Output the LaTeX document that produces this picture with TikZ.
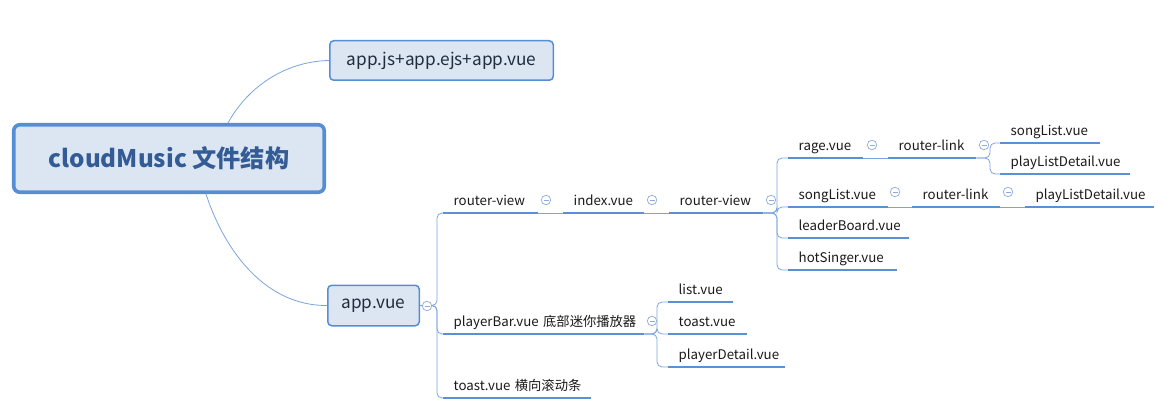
\documentclass[tikz,border=0pt]{standalone}
\usepackage{fontspec}
\setmainfont{Noto Sans CJK SC}
\definecolor{boxc}{HTML}{558ED5}
\definecolor{boxfill}{HTML}{DCE6F2}
\definecolor{rootText}{HTML}{335C96}
\definecolor{lineC}{HTML}{5B8FD6}
\definecolor{connC}{HTML}{7BA3DC}
\definecolor{minusC}{HTML}{8EAADB}
\definecolor{txtC}{HTML}{1A1A1A}
\definecolor{boxText}{HTML}{1F2D3D}
\tikzset{
  item/.style={anchor=south west, inner xsep=0pt, inner ysep=0pt, text height=10pt, text depth=7.5pt,
    align=left, text=txtC, font=\fontsize{13.3}{15}\selectfont, execute at begin node={\hspace*{10.5pt}}},
  uline/.style={draw=lineC, line width=2.9pt},
  conn/.style={draw=connC, line width=0.8pt},
  branch/.style={conn, rounded corners=5pt},
  minus/.style={circle, draw=minusC, fill=white, line width=0.7pt, minimum size=9.5pt, inner sep=0pt,
    path picture={\draw[minusC, line width=0.7pt] ([xshift=-2.5pt]path picture bounding box.center) -- ([xshift=2.5pt]path picture bounding box.center);}},
  topbox/.style={draw=boxc, fill=boxfill, rounded corners=4pt, line width=1.5pt, text=boxText,
    font=\fontsize{17.2}{20}\selectfont, inner sep=0pt}
}
\begin{document}
\begin{tikzpicture}[x=1pt,y=-1pt]
\useasboundingbox (0,0) rectangle (1158,403);
% main boxes
\node[draw=boxc, fill=boxfill, rounded corners=6pt, line width=3.6pt, minimum width=310.5pt, minimum height=67.5pt,
  inner sep=0pt, text=rootText, font=\bfseries\fontsize{24.2}{28}\selectfont] (root) at (169,158.5) {cloudMusic 文件结构};
\node[topbox, minimum width=223.5pt, minimum height=39.5pt] (appjs) at (441.5,60.5) {app.js+app.ejs+app.vue};
\node[topbox, minimum width=91.5pt, minimum height=40.5pt] (appvue) at (373.5,305.5) {app.vue};
% items
\node[item, text width=95pt] (rv1) at (443,213) {router-view};
\node[item, text width=81pt] (idx) at (563,213) {index.vue};
\node[item, text width=94pt] (rv2) at (669,213) {router-view};
\node[item, text width=201pt] (pb) at (443,334) {playerBar.vue 底部迷你播放器};
\node[item, text width=148pt] (tst) at (443,398) {toast.vue 横向滚动条};
\node[item, text width=65pt] (lst) at (668,302) {list.vue};
\node[item, text width=79pt] (tst2) at (668,334) {toast.vue};
\node[item, text width=117pt] (pd) at (668,367) {playerDetail.vue};
\node[item, text width=75pt] (rage) at (788,158) {rage.vue};
\node[item, text width=88pt] (rl1) at (888,158) {router-link};
\node[item, text width=100pt] (sl1) at (1000,143) {songList.vue};
\node[item, text width=130pt] (pld1) at (1000,174) {playListDetail.vue};
\node[item, text width=100pt] (sl2) at (788,207) {songList.vue};
\node[item, text width=88pt] (rl2) at (912,207) {router-link};
\node[item, text width=129pt] (pld2) at (1025,207) {playListDetail.vue};
\node[item, text width=121pt] (lb) at (788,238) {leaderBoard.vue};
\node[item, text width=109pt] (hs) at (788,270) {hotSinger.vue};
% underlines
\foreach \n in {rv1,idx,rv2,pb,tst,lst,tst2,pd,rage,rl1,sl1,pld1,sl2,rl2,pld2,lb,hs}
  \draw[uline] (\n.south west) -- (\n.south east);
% root connectors
\draw[conn] ([xshift=59pt]root.north) .. controls (246,90) and (282,61.5) .. (appjs.west);
\draw[conn] ([xshift=37pt]root.south) .. controls (226,255) and (268,306) .. (appvue.west);
% chains
\draw[conn] (rv1.south east) -- (idx.south west);
\draw[conn] (idx.south east) -- (rv2.south west);
\draw[conn] (rage.south east) -- (rl1.south west);
\draw[conn] (sl2.south east) -- (rl2.south west);
\draw[conn] (rl2.south east) -- (pld2.south west);
% branches
\foreach \c in {rv1,pb,tst}
  \draw[branch] (appvue.east) -- (437,305.5) |- (\c.south west);
\foreach \c in {lst,tst2,pd}
  \draw[branch] (pb.south east) -- (657,334) |- (\c.south west);
\foreach \c in {rage,sl2,lb,hs}
  \draw[branch] (rv2.south east) -- (777,213) |- (\c.south west);
\foreach \c in {sl1,pld1}
  \draw[branch] (rl1.south east) -- (990,158) |- (\c.south west);
% collapse markers
\node[minus] (m0) at (427,306) {};
\node[minus] (m1) at (546,200) {};
\node[minus] (m2) at (652,200) {};
\node[minus] (m3) at (771,200) {};
\node[minus] (m4) at (652,321) {};
\node[minus] (m5) at (872,145) {};
\node[minus] (m6) at (984,145) {};
\node[minus] (m7) at (895,192) {};
\node[minus] (m8) at (1008,192) {};
\end{tikzpicture}
\end{document}
